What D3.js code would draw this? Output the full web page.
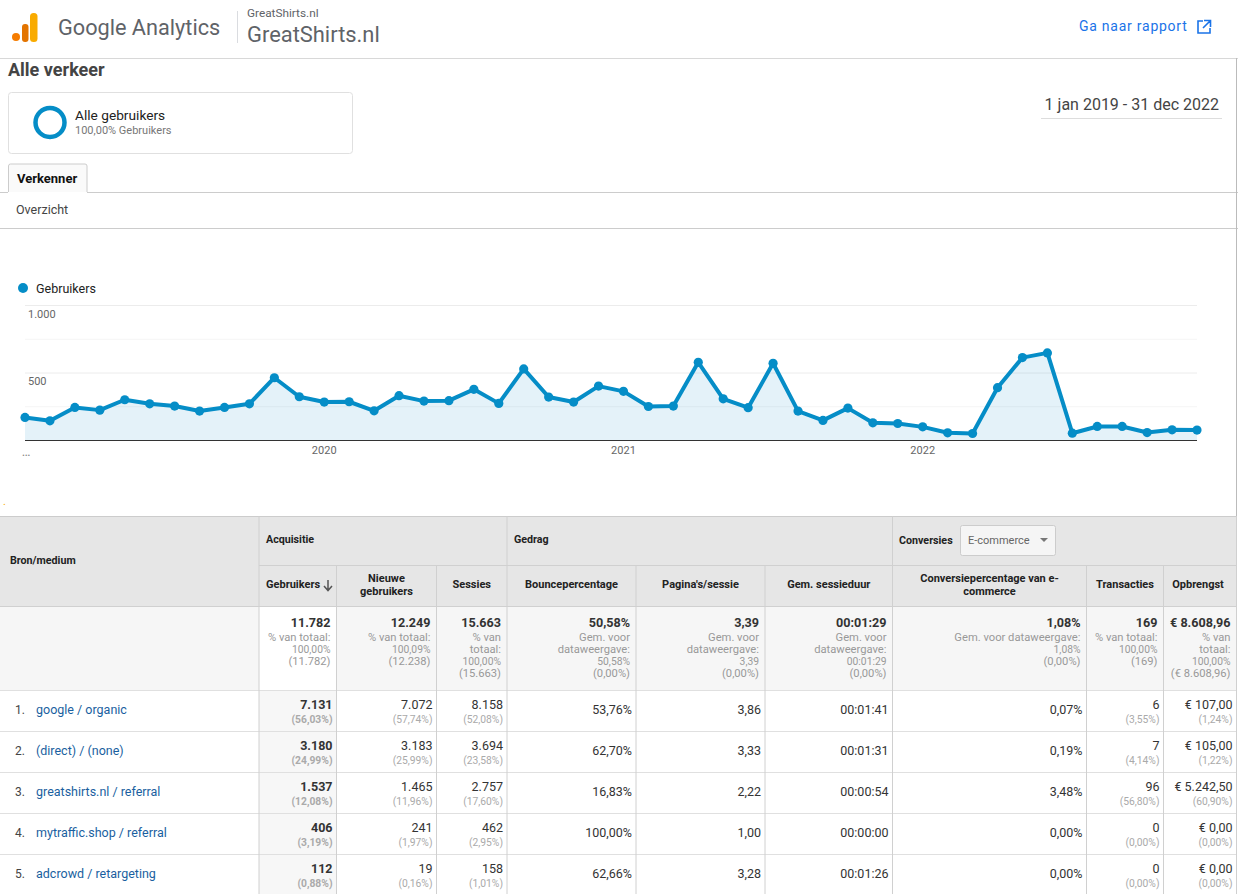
<!DOCTYPE html>
<head>
  <meta charset="utf-8">
  <script src="https://d3js.org/d3.v7.min.js"></script>
  <style>
    html,body{ margin:0; padding:0; background:#fff; overflow:hidden; }
    svg{ display:block; font-family:Roboto,sans-serif; }
    .xaxis text{ fill:#666; font-size:11px; font-family:Roboto; }
    .xaxis path,.xaxis line{ display:none; }
  </style>
</head>
<body>
<script>

// chart data
var months = ["2019-01","2019-02","2019-03","2019-04","2019-05","2019-06","2019-07","2019-08","2019-09","2019-10","2019-11","2019-12",
  "2020-01","2020-02","2020-03","2020-04","2020-05","2020-06","2020-07","2020-08","2020-09","2020-10","2020-11","2020-12",
  "2021-01","2021-02","2021-03","2021-04","2021-05","2021-06","2021-07","2021-08","2021-09","2021-10","2021-11","2021-12",
  "2022-01","2022-02","2022-03","2022-04","2022-05","2022-06","2022-07","2022-08","2022-09","2022-10","2022-11","2022-12"];
var users = [171,146,245,225,302,272,255,218,245,272,465,324,
  285,287,220,332,292,295,379,275,530,322,285,403,
  364,252,255,579,309,243,572,218,149,240,131,126,
  101,57,52,391,614,649,54,104,104,59,79,77];
var yTicks = [500,1000];
var yGrid = [250,500,750,1000];
var xTickMonths = ["2020-01","2021-01","2022-01"];
var xTickLabels = ["2020","2021","2022"];

// table data
var sources = ["google / organic","(direct) / (none)","greatshirts.nl / referral","mytraffic.shop / referral","adcrowd / retargeting"];
var colNames = [["Gebruikers"],["Nieuwe","gebruikers"],["Sessies"],["Bouncepercentage"],["Pagina's/sessie"],["Gem. sessieduur"],["Conversiepercentage van e-","commerce"],["Transacties"],["Opbrengst"]];
var totals = ["11.782","12.249","15.663","50,58%","3,39","00:01:29","1,08%","169","€ 8.608,96"];
var totalNotes = [
  ["% van totaal:","100,00%","(11.782)"],
  ["% van totaal:","100,09%","(12.238)"],
  ["% van","totaal:","100,00%","(15.663)"],
  ["Gem. voor","dataweergave:","50,58%","(0,00%)"],
  ["Gem. voor","dataweergave:","3,39","(0,00%)"],
  ["Gem. voor","dataweergave:","00:01:29","(0,00%)"],
  ["Gem. voor dataweergave:","1,08%","(0,00%)"],
  ["% van totaal:","100,00%","(169)"],
  ["% van","totaal:","100,00%","(€ 8.608,96)"]];
var rowValues = [
  ["7.131","7.072","8.158","53,76%","3,86","00:01:41","0,07%","6","€ 107,00"],
  ["3.180","3.183","3.694","62,70%","3,33","00:01:31","0,19%","7","€ 105,00"],
  ["1.537","1.465","2.757","16,83%","2,22","00:00:54","3,48%","96","€ 5.242,50"],
  ["406","241","462","100,00%","1,00","00:00:00","0,00%","0","€ 0,00"],
  ["112","19","158","62,66%","3,28","00:01:26","0,00%","0","€ 0,00"]];
var rowShares = [
  ["(56,03%)","(57,74%)","(52,08%)",null,null,null,null,"(3,55%)","(1,24%)"],
  ["(24,99%)","(25,99%)","(23,58%)",null,null,null,null,"(4,14%)","(1,22%)"],
  ["(12,08%)","(11,96%)","(17,60%)",null,null,null,null,"(56,80%)","(60,90%)"],
  ["(3,19%)","(1,97%)","(2,95%)",null,null,null,null,"(0,00%)","(0,00%)"],
  ["(0,88%)","(0,16%)","(1,01%)",null,null,null,null,"(0,00%)","(0,00%)"]];

var blue = "#058dc7", line = "#d0d0d0", link = "#1a5fa0";
var width = 1238, height = 894;

var svg = d3.select("body").append("svg").attr("width", width).attr("height", height);

function txt(g, x, y, s, size, fill, weight, anchor){
  return g.append("text").attr("x", x).attr("y", y).text(s)
    .style("font-size", size + "px").style("fill", fill)
    .style("font-weight", weight || 400).style("text-anchor", anchor || "start");
}
function rule(g, x1, y1, x2, y2, color){
  return g.append("line").attr("x1", x1).attr("y1", y1).attr("x2", x2).attr("y2", y2).style("stroke", color);
}

// page header
var top_ = svg.append("g");
top_.append("circle").attr("cx", 16).attr("cy", 37).attr("r", 4).style("fill", "#f57c00");
top_.append("rect").attr("x", 22).attr("y", 24).attr("width", 6.5).attr("height", 18).attr("rx", 3).style("fill", "#e37400");
top_.append("rect").attr("x", 30).attr("y", 13).attr("width", 7.5).attr("height", 29).attr("rx", 3.5).style("fill", "#f9ab00");
txt(top_, 58, 35, "Google Analytics", 21.7, "#5f6368");
rule(top_, 237.5, 11, 237.5, 43, "#dadce0");
txt(top_, 247, 17, "GreatShirts.nl", 11.8, "#5f6368");
txt(top_, 247, 42, "GreatShirts.nl", 21.9, "#5f6368");
txt(top_, 1079, 31, "Ga naar rapport", 14, "#1a73e8").style("letter-spacing", "0.75px");
top_.append("path").attr("d", "M1203 21h-5v12h12v-5M1204 20.500h6.500v6.500M1210 21l-7 7").style("fill", "none").style("stroke", "#1a73e8").style("stroke-width", 1.6);
rule(top_, 0, 58.5, width, 58.500, "#d8d8d8");
txt(top_, 8, 76, "Alle verkeer", 18, "#444", 700);
top_.append("rect").attr("x", 8.5).attr("y", 92.5).attr("width", 344).attr("height", 61).attr("rx", 3).style("fill", "#fff").style("stroke", "#e0e0e0");
top_.append("circle").attr("cx", 50).attr("cy", 122.500).attr("r", 14.5).style("fill", "none").style("stroke", blue).style("stroke-width", 4.5);
txt(top_, 75, 120, "Alle gebruikers", 13.7, "#222");
txt(top_, 75, 134, "100,00% Gebruikers", 11, "#777");
txt(top_, 1219, 110, "1 jan 2019 - 31 dec 2022", 16, "#444", 400, "end");
rule(top_, 1041, 118.5, 1222, 118.5, "#ddd");
top_.append("path").attr("d", "M8.5 192V166q0-2 2-2H85q2 0 2 2V192").style("fill", "#fafafa").style("stroke", "#ccc");
rule(top_, 0, 192.5, 8, 192.5, "#ccc");
rule(top_, 87, 192.5, width, 192.5, "#ccc");
txt(top_, 17, 183, "Verkenner", 13, "#111", 700);
txt(top_, 16, 214, "Overzicht", 12.5, "#444");
rule(top_, 0, 228.5, width, 228.5, "#ccc");
rule(top_, 1236.5, 58, 1236.5, height, "#bbb");

// line chart
var x = d3.scalePoint().domain(months).range([25, 1197]);
var y = d3.scaleLinear().domain([0, 1000]).range([440.5, 305.5]);

var legend = svg.append("g");
legend.append("circle").attr("cx", 23).attr("cy", 288).attr("r", 5).style("fill", blue);
txt(legend, 36, 292.5, "Gebruikers", 12.5, "#222");

svg.append("g").attr("class", "grid").selectAll("line").data(yGrid).enter().append("line")
  .attr("x1", 25).attr("x2", 1197)
  .attr("y1", function(d){ return y(d); }).attr("y2", function(d){ return y(d); })
  .style("stroke", function(d){ return d % 500 ? "#f5f5f5" : "#ececec"; });

svg.selectAll(".ylab").data(yTicks).enter().append("text").attr("class", "ylab")
  .attr("x", 28).attr("y", function(d){ return y(d) + 12; })
  .text(function(d){ return d3.format(",")(d).replace(",", "."); })
  .style("font-size", "11px").style("fill", "#666");

var area = d3.area()
  .x(function(d, i){ return x(months[i]); })
  .y0(y(0))
  .y1(function(d){ return y(d); });
var path = d3.line()
  .x(function(d, i){ return x(months[i]); })
  .y(function(d){ return y(d); });

svg.append("path").datum(users).attr("d", area).style("fill", blue).style("fill-opacity", 0.11);
rule(svg, 25, 440.5, 1197, 440.5, "#333");
svg.append("path").datum(users).attr("d", path).style("fill", "none").style("stroke", blue).style("stroke-width", 4).style("stroke-linejoin", "round");
svg.selectAll(".dot").data(users).enter().append("circle").attr("class", "dot")
  .attr("cx", function(d, i){ return x(months[i]); })
  .attr("cy", function(d){ return y(d); })
  .attr("r", 4.6).style("fill", blue);

var xAxis = d3.axisBottom(x).tickValues(xTickMonths)
  .tickFormat(function(d, i){ return xTickLabels[i]; }).tickSize(0).tickPadding(0);
svg.append("g").attr("class", "xaxis").attr("transform", "translate(-0.5,446.5)").call(xAxis);
txt(svg, 26, 456, "…", 13, "#888", 400, "middle");
txt(svg, 3, 505, ".", 11, "#f9ab00");

// table layout
var edges = [259, 336.5, 436.5, 507, 636, 765, 892.5, 1086.5, 1163.5, 1236.5];
var rowTop = 690.5, rowH = 41;
var tbl = svg.append("g");

tbl.append("rect").attr("x", 0).attr("y", 516.5).attr("width", 1236.5).attr("height", 90).style("fill", "#e6e6e6");
tbl.append("rect").attr("x", 0).attr("y", 606.5).attr("width", 1236.5).attr("height", 84).style("fill", "#f6f6f6");
tbl.append("rect").attr("x", edges[0]).attr("y", 606.5).attr("width", edges[1] - edges[0]).attr("height", 84).style("fill", "#fff");
tbl.append("rect").attr("x", edges[0]).attr("y", rowTop).attr("width", edges[1] - edges[0]).attr("height", height - rowTop).style("fill", "#f7f7f7");

rule(tbl, 0, 516.5, 1236.5, 516.5, "#ccc");
rule(tbl, edges[0], 565.5, 1236.5, 565.5, line);
rule(tbl, 0, 606.5, 1236.5, 606.5, line);
sources.forEach(function(s, r){
  rule(tbl, 0, rowTop + r * rowH, 1236.5, rowTop + r * rowH, "#e0e0e0");
});
edges.forEach(function(e, i){
  var group = i == 0 || i == 3 || i == 6 || i == 9;
  rule(tbl, e, group ? 516.5 : 565.5, e, height, line);
});

txt(tbl, 10, 564, "Bron/medium", 10.7, "#222", 700);
txt(tbl, 266, 543, "Acquisitie", 10.7, "#222", 700);
txt(tbl, 514, 543, "Gedrag", 10.7, "#222", 700);
txt(tbl, 899, 544, "Conversies", 10.7, "#222", 700);
tbl.append("rect").attr("x", 960.5).attr("y", 525.5).attr("width", 95).attr("height", 30).attr("rx", 2).style("fill", "#f5f5f5").style("stroke", "#ccc");
txt(tbl, 968, 544, "E-commerce", 11, "#666");
tbl.append("path").attr("d", "M1040 538h8l-4 4z").style("fill", "#777");

// column heads
colNames.forEach(function(lines, c){
  var cx = (edges[c] + edges[c + 1]) / 2, base = lines.length > 1 ? 582 : 588;
  if (c == 8) cx -= 2;
  lines.forEach(function(s, l){
    if (c == 0) txt(tbl, 266, base, s, 11, "#222", 700);
    else txt(tbl, cx, base + l * 13, s, 11, "#222", 700, "middle");
  });
});
tbl.append("path").attr("d", "M328 580v10M324 586l4 4.500 4-4.500").style("fill", "none").style("stroke", "#555").style("stroke-width", 1.5);

// totals row
totals.forEach(function(s, c){
  var right = edges[c + 1] - 6;
  txt(tbl, right, 627, s, 12.6, "#333", 700, "end");
  var notes = totalNotes[c];
  notes.forEach(function(n, l){
    var isShare = l == notes.length - 2;
    txt(tbl, right, [640.5, 653, 665, 677][l], n, isShare ? 10.3 : 11.2, "#999", 400, "end");
  });
});

// source rows
sources.forEach(function(s, r){
  var ry = rowTop + r * rowH;
  txt(tbl, 15, ry + 23.5, (r + 1) + ".", 12, "#444");
  txt(tbl, 36, ry + 23.5, s, 12.5, link);
  rowValues[r].forEach(function(v, c){
    var right = edges[c + 1] - 4, share = rowShares[r][c];
    txt(tbl, right, share ? ry + 18 : ry + 23.5, v, 12.5, "#333", c == 0 ? 700 : 400, "end");
    if (share) txt(tbl, right, ry + 32, share, 10.3, "#aaa", c == 0 ? 700 : 400, "end");
  });
});
</script>
</body>
